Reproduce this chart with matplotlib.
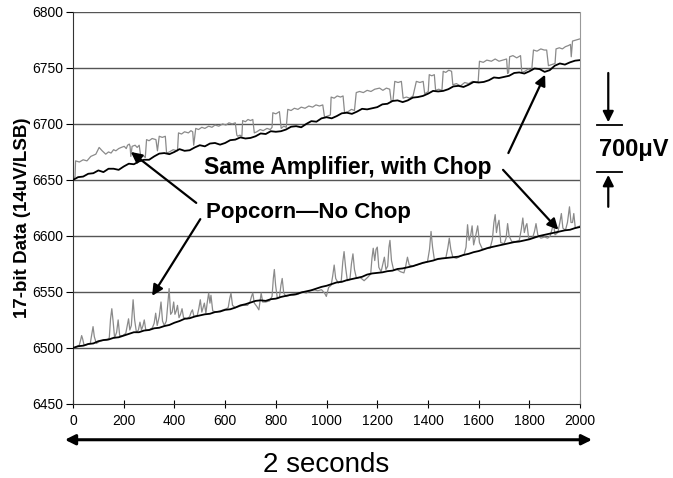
import matplotlib
matplotlib.use('Agg')
import matplotlib.pyplot as plt

plt.rcParams['font.family'] = ['Liberation Sans', 'DejaVu Sans']

# sample index for the two "chop" traces (every 20 samples)
chop_x = list(range(0, 2001, 20))

# upper pair: chopped amplifier (black)
upper_chop = [6650, 6652.5, 6653, 6655.5, 6656, 6658.5, 6657, 6660, 6660, 6659,
              6662, 6664.5, 6664, 6666.5, 6668, 6668, 6671, 6673.5, 6674, 6673,
              6675, 6677.5, 6676, 6676.5, 6679, 6681, 6680, 6682.5, 6683, 6681.5,
              6683, 6685.5, 6686, 6688, 6687, 6687.5, 6689, 6691.5, 6691, 6693.5,
              6693, 6693.5, 6695, 6697.5, 6698, 6697, 6700, 6702.5, 6702, 6705,
              6706, 6705, 6707, 6709.5, 6710, 6709, 6711, 6713.5, 6713, 6714,
              6715, 6717.5, 6718, 6720.5, 6721, 6719.5, 6721, 6723.5, 6724, 6725,
              6727, 6729.5, 6729, 6729.5, 6731, 6733.5, 6734, 6733, 6735, 6737.5,
              6737, 6737.5, 6739, 6741.5, 6741, 6742, 6743, 6745.5, 6746, 6745,
              6747, 6749.5, 6749, 6746.5, 6748, 6752, 6754, 6753, 6755, 6756.5,
              6757]

# lower pair: chopped amplifier (black)
lower_chop = [6500, 6501.5, 6502, 6503.5, 6504, 6506, 6507, 6507.5, 6509, 6509.5,
              6511, 6512.5, 6514, 6514, 6515.5, 6516, 6517.5, 6518, 6519.5, 6520.5,
              6522.5, 6524, 6526, 6526.5, 6528, 6529, 6530, 6530.5, 6532, 6532.5,
              6534, 6534.5, 6536, 6538, 6539, 6540.5, 6542, 6542.5, 6542, 6543.5,
              6544, 6545.5, 6546.5, 6547.5, 6548, 6549.5, 6550.5, 6551.5, 6553, 6554.5,
              6555.5, 6557, 6558.5, 6559, 6560.5, 6561.5, 6562.5, 6563.5, 6565.5, 6566.5,
              6567, 6567.5, 6568.5, 6569, 6570.5, 6571, 6572, 6573, 6574.5, 6576,
              6577, 6578, 6579.5, 6580, 6580.5, 6581, 6581.5, 6583, 6584, 6585.5,
              6586.5, 6588, 6589.5, 6590.5, 6591.5, 6592.5, 6593.5, 6594.5, 6595, 6596,
              6597, 6598.5, 6600, 6601, 6602, 6603, 6604, 6605, 6605.5, 6607,
              6608]

# upper pair: same amplifier without chop (gray, popcorn steps) as (sample, value)
upper_pop_pts = [
    (0, 6651), (8, 6653), (10, 6667), (25, 6666), (40, 6668), (55, 6667), (70, 6671),
    (90, 6673), (103, 6679), (115, 6676), (129, 6673), (140, 6675), (150, 6674),
    (160, 6677), (169, 6676), (180, 6678), (190, 6679), (202, 6680), (210, 6678),
    (215, 6681), (222, 6682), (225, 6680), (228, 6671), (233, 6680), (245, 6681),
    (253, 6679), (261, 6681), (267, 6671), (276, 6672), (285, 6670), (290, 6686),
    (300, 6685), (312, 6687), (327, 6686), (333, 6676), (340, 6689), (352, 6688),
    (364, 6689), (369, 6674), (380, 6675), (395, 6677), (412, 6676), (416, 6692),
    (428, 6691), (440, 6693), (455, 6692), (465, 6694), (472, 6693), (476, 6681),
    (484, 6696), (495, 6695), (508, 6697), (520, 6696), (535, 6698), (548, 6697),
    (560, 6699), (575, 6698), (590, 6700), (603, 6699), (615, 6701), (628, 6700),
    (640, 6701), (646, 6690), (650, 6689), (658, 6690), (666, 6689), (669, 6703),
    (680, 6702), (690, 6704), (700, 6703), (709, 6704), (715, 6692), (725, 6693),
    (738, 6695), (750, 6694), (765, 6696), (778, 6695), (785, 6697), (788, 6710),
    (800, 6709), (814, 6711), (821, 6696), (831, 6698), (841, 6697), (847, 6713),
    (860, 6712), (873, 6714), (887, 6713), (900, 6715), (915, 6714), (930, 6716),
    (945, 6715), (958, 6717), (972, 6716), (985, 6717), (992, 6706), (1003, 6707),
    (1015, 6708), (1018, 6724), (1030, 6723), (1042, 6725), (1055, 6724),
    (1065, 6725), (1071, 6710), (1085, 6711), (1098, 6713), (1110, 6712),
    (1117, 6728), (1130, 6729), (1145, 6728), (1160, 6730), (1175, 6729),
    (1190, 6731), (1209, 6732), (1222, 6730), (1236, 6732), (1249, 6731),
    (1255, 6720), (1262, 6721), (1269, 6738), (1282, 6737), (1295, 6738),
    (1302, 6723), (1315, 6724), (1328, 6723), (1341, 6725), (1354, 6738),
    (1368, 6737), (1381, 6738), (1387, 6727), (1395, 6728), (1401, 6729),
    (1405, 6744), (1415, 6743), (1425, 6744), (1430, 6730), (1442, 6731),
    (1455, 6730), (1460, 6747), (1470, 6746), (1482, 6748), (1493, 6747),
    (1498, 6735), (1512, 6736), (1528, 6734), (1545, 6737), (1560, 6736),
    (1575, 6738), (1590, 6737), (1598, 6738), (1603, 6756), (1618, 6755),
    (1632, 6757), (1650, 6756), (1665, 6758), (1680, 6756), (1695, 6757),
    (1710, 6758), (1714, 6745), (1718, 6746), (1722, 6760), (1735, 6761),
    (1750, 6759), (1765, 6761), (1770, 6746), (1782, 6747), (1795, 6749),
    (1809, 6748), (1816, 6766), (1830, 6765), (1845, 6767), (1858, 6766),
    (1868, 6766), (1875, 6752), (1888, 6753), (1901, 6754), (1905, 6767),
    (1918, 6768), (1930, 6767), (1942, 6769), (1954, 6770), (1962, 6771),
    (1965, 6760), (1970, 6774), (1985, 6775), (2000, 6776),
]

# lower pair: same amplifier without chop (gray, popcorn spikes)
lower_pop_pts = [
    (0, 6499), (12, 6501), (24, 6502), (30, 6507), (34, 6511), (38, 6508), (44, 6502),
    (56, 6503), (68, 6504), (74, 6512), (79, 6519), (84, 6510), (92, 6504),
    (106, 6506), (120, 6507), (134, 6507), (143, 6509), (148, 6526), (153, 6535),
    (158, 6524), (164, 6509), (172, 6514), (178, 6525), (184, 6511), (196, 6511),
    (208, 6513), (214, 6520), (219, 6526), (224, 6516), (230, 6520), (237, 6543),
    (243, 6525), (250, 6514), (258, 6516), (264, 6523), (270, 6516), (276, 6520),
    (281, 6525), (287, 6516), (300, 6516), (313, 6518), (320, 6522), (326, 6531),
    (332, 6520), (340, 6528), (347, 6541), (353, 6524), (360, 6520), (368, 6524),
    (374, 6540), (379, 6553), (385, 6530), (391, 6532), (397, 6541), (402, 6530),
    (407, 6533), (412, 6538), (418, 6527), (424, 6530), (430, 6535), (436, 6527),
    (450, 6526), (460, 6528), (466, 6532), (471, 6534), (477, 6528), (490, 6529),
    (496, 6535), (502, 6543), (508, 6532), (513, 6536), (518, 6540), (524, 6531),
    (529, 6540), (535, 6549), (540, 6540), (544, 6547), (551, 6533), (565, 6532),
    (580, 6533), (592, 6534), (605, 6535), (612, 6536), (618, 6544), (623, 6549),
    (629, 6538), (640, 6536), (655, 6537), (670, 6538), (688, 6538), (698, 6541),
    (704, 6546), (709, 6549), (715, 6540), (725, 6537), (733, 6534), (738, 6542),
    (742, 6549), (748, 6541), (760, 6541), (775, 6542), (785, 6546), (790, 6562),
    (794, 6570), (799, 6556), (806, 6544), (814, 6545), (820, 6556), (825, 6562),
    (831, 6549), (840, 6546), (855, 6547), (870, 6547), (888, 6548), (905, 6550),
    (920, 6549), (935, 6551), (950, 6552), (965, 6551), (980, 6552), (992, 6549),
    (999, 6546), (1008, 6554), (1018, 6556), (1024, 6564), (1030, 6574),
    (1036, 6562), (1046, 6558), (1058, 6560), (1064, 6577), (1069, 6586),
    (1075, 6572), (1082, 6560), (1092, 6561), (1098, 6575), (1104, 6584),
    (1110, 6570), (1118, 6562), (1132, 6563), (1148, 6560), (1162, 6563),
    (1174, 6566), (1179, 6580), (1184, 6589), (1190, 6578), (1195, 6588),
    (1200, 6590), (1206, 6572), (1215, 6568), (1222, 6575), (1228, 6581),
    (1234, 6570), (1241, 6573), (1246, 6590), (1250, 6596), (1256, 6578),
    (1264, 6570), (1278, 6570), (1292, 6568), (1305, 6567), (1312, 6573),
    (1319, 6581), (1326, 6574), (1340, 6573), (1355, 6574), (1370, 6575),
    (1385, 6576), (1398, 6577), (1406, 6588), (1412, 6604), (1418, 6590),
    (1425, 6579), (1440, 6579), (1455, 6580), (1470, 6580), (1478, 6589),
    (1484, 6598), (1490, 6588), (1498, 6581), (1512, 6580), (1528, 6582),
    (1542, 6583), (1550, 6590), (1556, 6610), (1562, 6596), (1568, 6600),
    (1574, 6609), (1580, 6592), (1588, 6600), (1596, 6609), (1603, 6594),
    (1615, 6588), (1630, 6589), (1645, 6589), (1654, 6597), (1660, 6612),
    (1665, 6619), (1670, 6603), (1675, 6610), (1680, 6614), (1687, 6594),
    (1700, 6593), (1708, 6598), (1714, 6611), (1720, 6600), (1730, 6595),
    (1745, 6595), (1760, 6596), (1768, 6606), (1774, 6616), (1780, 6603),
    (1786, 6609), (1790, 6611), (1797, 6598), (1812, 6598), (1820, 6604),
    (1826, 6611), (1833, 6601), (1845, 6598), (1860, 6599), (1872, 6598),
    (1882, 6600), (1890, 6607), (1895, 6611), (1901, 6601), (1912, 6603),
    (1920, 6612), (1926, 6620), (1932, 6607), (1942, 6605), (1950, 6612),
    (1958, 6626), (1964, 6612), (1970, 6612), (1975, 6620), (1981, 6607),
    (1990, 6608), (2000, 6609),
]

y_ticks = [6450, 6500, 6550, 6600, 6650, 6700, 6750, 6800]
x_ticks = [0, 200, 400, 600, 800, 1000, 1200, 1400, 1600, 1800, 2000]

upper_pop_x, upper_pop = zip(*upper_pop_pts)
lower_pop_x, lower_pop = zip(*lower_pop_pts)

fig = plt.figure(figsize=(6.73, 4.78), dpi=100)
ax = fig.add_axes([0.1085, 0.155, 0.7535, 0.82])

grid_c = '#555555'
for v in y_ticks[1:]:
    ax.axhline(v, color=grid_c, lw=1.0, zorder=1)

gray_c = '#8a8a8a'
ax.plot(upper_pop_x, upper_pop, color=gray_c, lw=0.9, zorder=2)
ax.plot(lower_pop_x, lower_pop, color=gray_c, lw=0.9, zorder=2)
ax.plot(chop_x, upper_chop, color='black', lw=1.3, zorder=3)
ax.plot(chop_x, lower_chop, color='black', lw=1.3, zorder=3)

ax.set_xlim(0, 2000)
ax.set_ylim(6450, 6800)
ax.set_xticks(x_ticks)
ax.set_yticks(y_ticks)
ax.tick_params(axis='y', direction='out', length=5, labelsize=10, pad=2)
ax.tick_params(axis='x', direction='inout', length=6, labelsize=10, pad=4)
ax.spines['top'].set_visible(False)
ax.spines['right'].set_color('#999999')
ax.spines['left'].set_color('#333333')
ax.spines['bottom'].set_color('#333333')

fig.text(23 / 673, 0.545, '17-bit Data (14uV/LSB)', rotation=90, fontsize=13.5,
         fontweight='bold', ha='center', va='center')

# callouts
ax.text(518, 6660.7, 'Same Amplifier, with Chop', fontsize=16.5, fontweight='bold',
        ha='left', va='center', zorder=5)
ax.text(526, 6620.5, 'Popcorn\u2014No Chop', fontsize=16, fontweight='bold',
        ha='left', va='center', zorder=5)

arr = dict(arrowstyle='-|>', color='black', lw=1.6, mutation_scale=16,
           shrinkA=0, shrinkB=0)
ax.annotate('', xy=(228, 6675), xytext=(486, 6629.5), arrowprops=arr)
ax.annotate('', xy=(312, 6546.5), xytext=(502, 6615), arrowprops=arr)
ax.annotate('', xy=(1862, 6744), xytext=(1717, 6674), arrowprops=arr)
ax.annotate('', xy=(1914, 6605.5), xytext=(1696, 6659), arrowprops=arr)

# 700uV span marker on the right
ax.annotate('', xy=(2111, 6701.5), xytext=(2111, 6745.5), arrowprops=arr,
            annotation_clip=False)
ax.annotate('', xy=(2111, 6654.5), xytext=(2111, 6626), arrowprops=arr,
            annotation_clip=False)
ax.plot([2067, 2166], [6699, 6699], color='black', lw=1.3, clip_on=False)
ax.plot([2067, 2166], [6657, 6657], color='black', lw=1.3, clip_on=False)
ax.text(2211, 6677, '700\u03bcV', fontsize=17, fontweight='bold', ha='center',
        va='center', clip_on=False)

# time span arrow under the axis
ax.annotate('', xy=(2047, 6418), xytext=(-32, 6418),
            arrowprops=dict(arrowstyle='<|-|>', color='black', lw=2.2,
                            mutation_scale=15, shrinkA=0, shrinkB=0),
            annotation_clip=False)
ax.text(1000, 6395.5, '2 seconds', fontsize=20, ha='center', va='center',
        clip_on=False)

fig.savefig('out.png', dpi=100)
